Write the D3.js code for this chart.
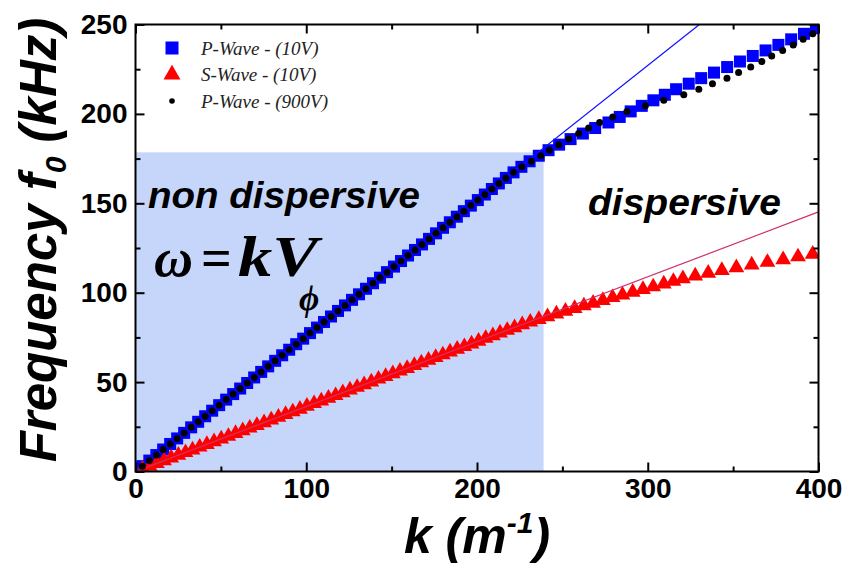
<!DOCTYPE html>
<html><head><meta charset="utf-8">
<script src="https://cdn.jsdelivr.net/npm/d3@7"></script>
<style>body{margin:0;background:#fff}</style></head>
<body><svg id="c" width="842" height="566"></svg>
<script>
// ---- data ----
const pWave10K = [4.0,8.1,12.2,16.2,20.3,24.4,28.5,32.6,36.7,40.8,44.9,49.0,53.1,57.2,61.3,65.4,69.5,73.6,77.7,81.8,85.9,90.0,94.1,98.2,102.2,106.3,110.4,114.5,118.6,122.7,126.8,130.9,135.0,139.1,143.2,147.3,151.4,155.5,159.6,163.7,167.8,171.9,176.0,180.1,184.1,188.2,192.3,196.4,200.5,204.6,208.7,212.8,216.9,221.4,226.0,230.8,236.2,241.9,248.1,254.8,262.0,269.2,277.0,283.6,290.0,296.5,303.3,310.0,316.6,324.0,331.3,338.8,346.5,354.0,361.5,369.0,376.5,384.0,391.5,398.5];
const pWave10F = [3.0,6.1,9.2,12.3,15.4,18.5,21.6,24.7,27.8,30.9,34.0,37.1,40.2,43.3,46.4,49.5,52.6,55.7,58.8,61.9,65.0,68.1,71.2,74.3,77.4,80.5,83.6,86.7,89.8,92.9,96.0,99.1,102.2,105.3,108.4,111.5,114.6,117.7,120.8,123.9,127.0,130.1,133.2,136.3,139.4,142.5,145.6,148.7,151.8,154.9,158.0,161.1,164.2,167.3,170.4,173.5,176.6,179.7,182.8,185.9,189.0,192.1,195.2,198.3,201.4,204.5,207.6,210.7,213.8,216.9,220.0,223.1,226.2,229.3,232.4,235.5,238.6,241.7,244.8,247.9];

const pWave900K = [4.0,8.1,12.2,16.2,20.3,24.4,28.5,32.6,36.7,40.8,44.9,49.0,53.1,57.2,61.3,65.4,69.5,73.6,77.7,81.8,85.9,90.0,94.1,98.2,102.2,106.3,110.4,114.5,118.6,122.7,126.8,130.9,135.0,139.1,143.2,147.3,151.4,155.5,159.6,163.7,167.8,171.9,176.0,180.1,184.1,188.2,192.3,196.4,200.5,204.6,208.7,212.8,216.9,221.4,226.2,231.8,237.4,242.4,247.9,253.7,259.5,265.4,271.8,279.5,287.8,298.6,309.4,321.1,329.9,337.9,346.4,353.2,360.3,366.8,372.6,379.0,385.2,391.0,396.6];
const pWave900F = [3.0,6.1,9.2,12.3,15.4,18.5,21.6,24.7,27.8,30.9,34.0,37.1,40.2,43.3,46.4,49.5,52.6,55.7,58.8,61.9,65.0,68.1,71.2,74.3,77.4,80.5,83.6,86.7,89.8,92.9,96.0,99.1,102.2,105.3,108.4,111.5,114.6,117.7,120.8,123.9,127.0,130.1,133.2,136.3,139.4,142.5,145.6,148.7,151.8,154.9,158.0,161.1,164.2,167.3,170.4,173.5,176.6,179.7,182.8,185.9,189.0,192.1,195.2,198.3,201.4,204.5,207.6,210.7,213.8,216.9,220.0,223.1,226.2,229.3,232.4,235.5,238.6,241.7,244.8];

const sWave10K = [4.1,8.3,12.5,16.7,20.9,25.1,29.3,33.4,37.6,41.8,46.0,50.2,54.4,58.6,62.8,66.9,71.1,75.3,79.5,83.7,87.9,92.1,96.3,100.4,104.6,108.8,113.0,117.2,121.4,125.6,129.8,133.9,138.1,142.3,146.5,150.7,154.9,159.1,163.3,167.4,171.6,175.8,180.0,184.2,188.4,192.6,196.8,200.9,205.1,209.3,213.5,217.7,222.0,226.5,231.2,236.2,241.3,246.5,251.8,257.2,262.6,268.0,273.7,279.4,285.2,291.2,297.2,303.2,309.4,315.0,320.6,327.8,335.4,343.4,351.9,360.9,370.1,379.3,388.0,396.6];
const sWave10F = [1.5,3.0,4.5,6.1,7.6,9.1,10.6,12.1,13.7,15.2,16.7,18.2,19.7,21.3,22.8,24.3,25.8,27.3,28.9,30.4,31.9,33.4,34.9,36.5,38.0,39.5,41.0,42.5,44.1,45.6,47.1,48.6,50.1,51.7,53.2,54.7,56.2,57.7,59.3,60.8,62.3,63.8,65.3,66.9,68.4,69.9,71.4,72.9,74.5,76.0,77.5,79.0,80.5,82.1,83.6,85.1,86.6,88.1,89.7,91.2,92.7,94.2,95.7,97.3,98.8,100.3,101.8,103.3,104.9,106.4,107.9,109.4,110.9,112.5,114.0,115.5,117.0,118.5,120.1,121.6];

const fitSlopes = [0.757, 0.363];          // linear fits f = V k (P, S)
const fitColors = ["#1010ff", "#d0306a"];
const shadeLimits = [239, 178.5];          // non-dispersive region: k max, f max
const xMajorTicks = [0,100,200,300,400];
const xMinorTicks = [50,150,250,350];
const yMajorTicks = [0,50,100,150,200,250];
const yMinorTicks = [25,75,125,175,225];
const legendLabels = ["P-Wave - (10V)", "S-Wave - (10V)", "P-Wave - (900V)"];

// ---- layout ----
const L = 135.5, R = 818.5, T = 24.5, B = 471.5;
const svg = d3.select("#c");
const x = d3.scaleLinear().domain([0,400]).range([L,R]);
const y = d3.scaleLinear().domain([0,250]).range([B,T]);

svg.append("defs").append("clipPath").attr("id","clip")
  .append("rect").attr("x",L).attr("y",T).attr("width",R-L).attr("height",B-T);

// shaded non dispersive region
svg.append("rect").attr("x",x(0)).attr("y",y(shadeLimits[1]))
  .attr("width",x(shadeLimits[0])-x(0)).attr("height",y(0)-y(shadeLimits[1]))
  .attr("fill","#c6d6fa");

const plot = svg.append("g").attr("clip-path","url(#clip)");

// squares P 10V
const sq = 12;
plot.selectAll(".sq").data(pWave10K.map((k,i)=>[k,pWave10F[i]])).enter()
  .append("rect").attr("x",d=>x(d[0])-sq/2).attr("y",d=>y(d[1])-sq/2)
  .attr("width",sq).attr("height",sq).attr("fill","#0000ff");

// triangles S 10V
const tri = d3.symbol().type(d3.symbolTriangle).size(108);
plot.selectAll(".tri").data(sWave10K.map((k,i)=>[k,sWave10F[i]])).enter()
  .append("path").attr("d",tri).attr("transform",d=>`translate(${x(d[0])},${y(d[1])})`)
  .attr("fill","#ff0000");

// fit lines
fitSlopes.forEach((v,i)=>{
  const kEnd = Math.min(400, 250/v);
  plot.append("line").attr("x1",x(0)).attr("y1",y(0)).attr("x2",x(kEnd)).attr("y2",y(v*kEnd))
    .attr("stroke",fitColors[i]).attr("stroke-width",1.2);
});

// dots P 900V
plot.selectAll(".dot").data(pWave900K.map((k,i)=>[k,pWave900F[i]])).enter()
  .append("circle").attr("cx",d=>x(d[0])).attr("cy",d=>y(d[1])).attr("r",3.5).attr("fill","#000");

// frame
svg.append("rect").attr("x",L).attr("y",T).attr("width",R-L).attr("height",B-T)
  .attr("fill","none").attr("stroke","#000").attr("stroke-width",2);

const tickFont = g => g.selectAll("text").attr("font-family","'Liberation Sans',Arial,sans-serif")
  .attr("font-weight","bold").attr("font-size",28).attr("fill","#000");
const styleAxis = g => { g.select(".domain").remove(); g.selectAll("line").attr("stroke","#000").attr("stroke-width",2); };

svg.append("g").attr("transform",`translate(0,${B})`)
  .call(d3.axisBottom(x).tickValues(xMajorTicks).tickSize(-9).tickPadding(7).tickFormat(d3.format("d")))
  .call(styleAxis).call(tickFont);
svg.append("g").attr("transform",`translate(0,${B})`)
  .call(d3.axisBottom(x).tickValues(xMinorTicks).tickSize(-5).tickFormat("")).call(styleAxis);
svg.append("g").attr("transform",`translate(0,${T})`)
  .call(d3.axisTop(x).tickValues(xMajorTicks).tickSize(-9).tickFormat("")).call(styleAxis);
svg.append("g").attr("transform",`translate(0,${T})`)
  .call(d3.axisTop(x).tickValues(xMinorTicks).tickSize(-5).tickFormat("")).call(styleAxis);

svg.append("g").attr("transform",`translate(${L},0)`)
  .call(d3.axisLeft(y).tickValues(yMajorTicks).tickSize(-9).tickPadding(8).tickFormat(d3.format("d")))
  .call(styleAxis).call(tickFont);
svg.append("g").attr("transform",`translate(${L},0)`)
  .call(d3.axisLeft(y).tickValues(yMinorTicks).tickSize(-5).tickFormat("")).call(styleAxis);
svg.append("g").attr("transform",`translate(${R},0)`)
  .call(d3.axisRight(y).tickValues(yMajorTicks).tickSize(-9).tickFormat("")).call(styleAxis);
svg.append("g").attr("transform",`translate(${R},0)`)
  .call(d3.axisRight(y).tickValues(yMinorTicks).tickSize(-5).tickFormat("")).call(styleAxis);

// axis titles
const sans = "'Liberation Sans',Arial,sans-serif";
const xt = svg.append("text").attr("x",(L+R)/2).attr("y",553).attr("text-anchor","middle")
  .attr("font-family",sans).attr("font-weight","bold").attr("font-style","italic").attr("font-size",50);
xt.append("tspan").text("k (m");
xt.append("tspan").attr("font-size",30).attr("dy",-20).text("-1");
xt.append("tspan").attr("dy",20).text(")");

const yt = svg.append("text").attr("transform","translate(56,240) rotate(-90)").attr("text-anchor","middle")
  .attr("font-family",sans).attr("font-weight","bold").attr("font-style","italic").attr("font-size",51);
yt.append("tspan").text("Frequency f");
yt.append("tspan").attr("font-size",30).attr("dy",10).text("0");
yt.append("tspan").attr("dy",-10).text(" (kHz)");

// annotations
svg.append("text").attr("x",148).attr("y",208).attr("font-family",sans).attr("font-weight","bold")
  .attr("font-style","italic").attr("font-size",36).attr("textLength",272).attr("lengthAdjust","spacingAndGlyphs")
  .text("non dispersive");
svg.append("text").attr("x",588).attr("y",215).attr("font-family",sans).attr("font-weight","bold")
  .attr("font-style","italic").attr("font-size",36).attr("textLength",193).attr("lengthAdjust","spacingAndGlyphs")
  .text("dispersive");
const serif = "'Liberation Serif','Times New Roman',serif";
const eqText = (t, xx, italic, size, len) => {
  const e = svg.append("text").attr("x",xx).attr("y",276).attr("font-family",serif)
    .attr("font-weight","bold").attr("font-size",size).attr("font-style",italic ? "italic" : "normal").text(t);
  if (len) e.attr("textLength",len).attr("lengthAdjust","spacingAndGlyphs");
};
eqText("ω", 154, true, 54);
eqText("=", 201, false, 54);
eqText("kV", 238, true, 56, 80);
svg.append("text").attr("x",299).attr("y",310).attr("font-family",serif).attr("font-weight","bold")
  .attr("font-style","italic").attr("font-size",35).text("ϕ");

// legend
const lg = svg.append("g");
const rows = [48, 74.5, 101];
lg.append("rect").attr("x",172-6.5).attr("y",rows[0]-6.5).attr("width",13).attr("height",13).attr("fill","#0000ff");
lg.append("path").attr("d",d3.symbol().type(d3.symbolTriangle).size(125)).attr("transform",`translate(172,${rows[1]})`).attr("fill","#ff0000");
lg.append("circle").attr("cx",172).attr("cy",rows[2]).attr("r",2.8).attr("fill","#000");
legendLabels.forEach((t,i)=>{
  lg.append("text").attr("x",201).attr("y",rows[i]+6.5).attr("font-family",serif).attr("font-style","italic")
    .attr("font-size",19).attr("fill","#222").text(t);
});
</script></body></html>
